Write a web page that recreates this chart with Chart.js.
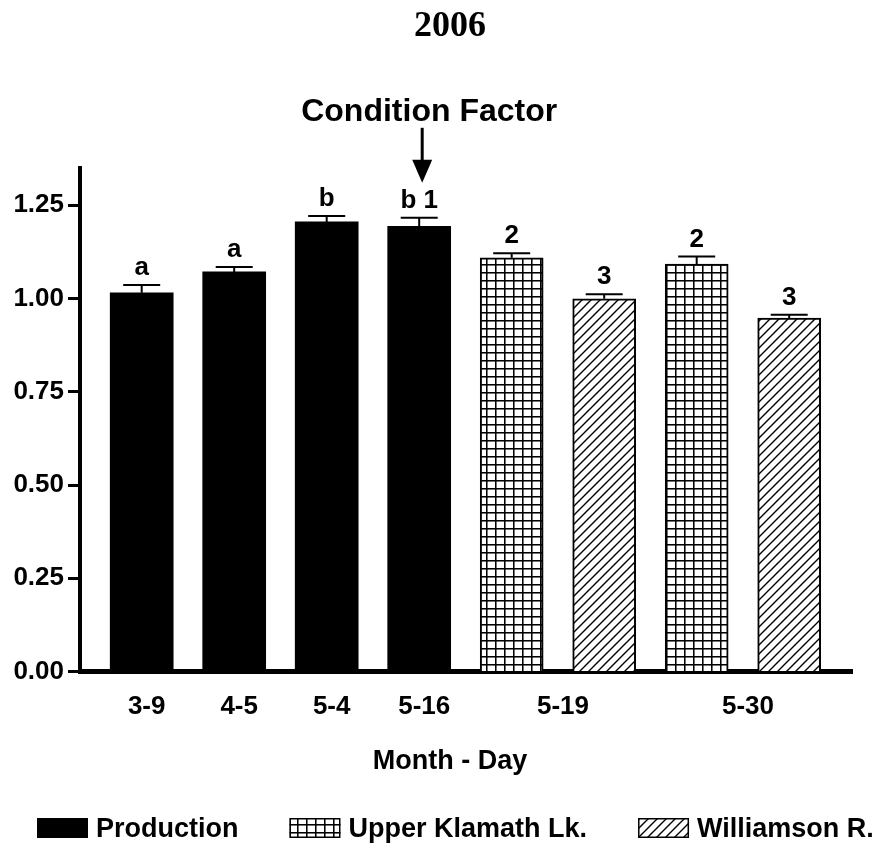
<!DOCTYPE html>
<html><head><meta charset="utf-8">
<script src="https://cdn.jsdelivr.net/npm/chart.js@4.4.0/dist/chart.umd.min.js"></script>
<style>html,body{margin:0;padding:0;background:#fff;}</style>
</head><body>
<canvas id="c" width="888" height="848"></canvas>
<script>
// ---- data ----
const dates = ['3-9', '4-5', '5-4', '5-16', '5-19', '5-30'];
const seriesNames = ['Production', 'Upper Klamath Lk.', 'Williamson R.'];
const production = [1.015, 1.071, 1.205, 1.193];
const productionErr = [0.021, 0.013, 0.016, 0.023];
const productionLetters = ['a', 'a', 'b', 'b 1'];
const upperKlamath = [1.109, 1.092];
const upperKlamathErr = [0.012, 0.020];
const upperKlamathLetters = ['2', '2'];
const williamson = [0.999, 0.947];
const williamsonErr = [0.012, 0.009];
const williamsonLetters = ['3', '3'];
const yTicks = [0, 0.25, 0.50, 0.75, 1.00, 1.25];

// ---- slot layout derived from structure ----
const pairStart = production.length + 1;
const productionSlots = production.map((v, i) => i + 1);
const upperSlots = upperKlamath.map((v, i) => pairStart + 2 * i);
const willSlots = williamson.map((v, i) => pairStart + 2 * i + 1);
const dateSlots = dates.map((d, i) => i < production.length ? i + 1 : pairStart + 2 * (i - production.length) + 0.5);

function gridPattern() {
  const c = document.createElement('canvas'); c.width = 9; c.height = 8;
  const g = c.getContext('2d');
  g.fillStyle = '#fff'; g.fillRect(0, 0, 9, 8);
  g.fillStyle = 'rgba(0,0,0,0.55)';
  g.fillRect(1, 0, 1, 8); g.fillRect(0, 1, 9, 1);
  g.fillStyle = '#000';
  g.fillRect(0, 0, 1, 8); g.fillRect(0, 0, 9, 1);
  return g.createPattern(c, 'repeat');
}
function hatchPattern() {
  const c = document.createElement('canvas'); c.width = 9; c.height = 9;
  const g = c.getContext('2d');
  g.fillStyle = '#fff'; g.fillRect(0, 0, 9, 9);
  g.strokeStyle = '#000'; g.lineWidth = 1.4;
  g.beginPath();
  g.moveTo(-1, 10); g.lineTo(10, -1);
  g.moveTo(-2, 2); g.lineTo(2, -2);
  g.moveTo(7, 11); g.lineTo(11, 7);
  g.stroke();
  return g.createPattern(c, 'repeat');
}

const FONT = 'Liberation Sans';

const annot = {
  id: 'annot',
  afterDatasetsDraw(chart) {
    const ctx = chart.ctx, ys = chart.scales.y;
    chart.data.datasets.forEach((ds, di) => {
      const meta = chart.getDatasetMeta(di);
      meta.data.forEach((bar, i) => {
        const v = ds.data[i].y, e = ds.err[i];
        const yTop = ys.getPixelForValue(v + e);
        ctx.save();
        ctx.strokeStyle = '#000'; ctx.lineWidth = 2;
        ctx.beginPath();
        ctx.moveTo(bar.x, bar.y); ctx.lineTo(bar.x, yTop);
        ctx.moveTo(bar.x - 18.5, yTop); ctx.lineTo(bar.x + 18.5, yTop);
        ctx.stroke();
        ctx.font = 'bold 26px "' + FONT + '"';
        ctx.textAlign = 'center'; ctx.textBaseline = 'alphabetic'; ctx.fillStyle = '#000';
        ctx.fillText(ds.letters[i], bar.x, yTop - 10);
        ctx.restore();
      });
    });
  },
  afterDraw(chart) {
    const ctx = chart.ctx, top = chart.chartArea.top;
    const meta = chart.getDatasetMeta(0);
    const bx = meta.data[meta.data.length - 1].x;
    ctx.save();
    ctx.fillStyle = '#000'; ctx.strokeStyle = '#000';
    ctx.font = 'bold 32px "' + FONT + '"';
    ctx.textAlign = 'center'; ctx.textBaseline = 'alphabetic';
    ctx.fillText('Condition Factor', bx + 10, top - 47);
    const ax = bx + 3;
    ctx.lineWidth = 3;
    ctx.beginPath(); ctx.moveTo(ax, top - 40); ctx.lineTo(ax, top - 6); ctx.stroke();
    ctx.beginPath(); ctx.moveTo(ax - 10, top - 8); ctx.lineTo(ax + 10, top - 8); ctx.lineTo(ax, top + 15); ctx.closePath(); ctx.fill();
    // legend
    ctx.font = 'bold 27px "' + FONT + '"';
    ctx.textAlign = 'left';
    let x = 37;
    const boxTop = 818, boxH = 20, boxW = 51;
    chart.data.datasets.forEach(ds => {
      ctx.fillStyle = ds.backgroundColor;
      ctx.fillRect(x, boxTop, boxW, boxH);
      if (ds.borderWidth) { ctx.lineWidth = 1.5; ctx.strokeStyle = '#000'; ctx.strokeRect(x + 0.75, boxTop + 0.75, boxW - 1.5, boxH - 1.5); }
      ctx.fillStyle = '#000';
      ctx.fillText(ds.label, x + boxW + 8, 837);
      x += boxW + 8 + ctx.measureText(ds.label).width + 51;
    });
    ctx.restore();
  }
};

new Chart(document.getElementById('c'), {
  type: 'bar',
  data: {
    datasets: [
      { label: seriesNames[0], data: production.map((v, i) => ({ x: productionSlots[i], y: v })), backgroundColor: '#000', borderWidth: 0, err: productionErr, letters: productionLetters },
      { label: seriesNames[1], data: upperKlamath.map((v, i) => ({ x: upperSlots[i], y: v })), backgroundColor: gridPattern(), borderColor: '#000', borderWidth: 2, err: upperKlamathErr, letters: upperKlamathLetters },
      { label: seriesNames[2], data: williamson.map((v, i) => ({ x: willSlots[i], y: v })), backgroundColor: hatchPattern(), borderColor: '#000', borderWidth: 2, err: williamsonErr, letters: williamsonLetters }
    ]
  },
  options: {
    responsive: false, animation: false, devicePixelRatio: 1,
    layout: { padding: { top: 0, left: 12, right: 0, bottom: 70 } },
    datasets: { bar: { grouped: false, barThickness: 63, borderSkipped: 'start' } },
    plugins: {
      legend: { display: false },
      tooltip: { enabled: false },
      title: { display: true, text: '2006', color: '#000', font: { family: 'Liberation Serif', size: 36, weight: 'bold' }, padding: { top: 5, bottom: 119.6 } },
      subtitle: { display: true, text: 'Month - Day', position: 'bottom', color: '#000', font: { family: FONT, size: 27, weight: 'bold' }, padding: { top: 2.8, bottom: 0 } }
    },
    scales: {
      x: {
        type: 'linear', min: 0.333, max: 8.679, offset: false,
        afterBuildTicks: s => { s.ticks = dateSlots.map(v => ({ value: v })); },
        ticks: { callback: (v, i) => dates[i], color: '#000', font: { family: FONT, size: 26, weight: 'bold' }, padding: 20, autoSkip: false, maxRotation: 0, labelOffset: 5 },
        grid: { display: false, drawOnChartArea: false, drawTicks: false },
        border: { display: true, color: '#000', width: 5 }
      },
      y: {
        min: 0, max: 1.35,
        afterBuildTicks: s => { s.ticks = yTicks.map(v => ({ value: v })); },
        afterFit: s => { s.width = 68; },
        ticks: { callback: v => Number(v).toFixed(2), color: '#000', font: { family: FONT, size: 26, weight: 'bold' }, padding: 4 },
        grid: { drawOnChartArea: false, drawTicks: true, tickLength: 12, tickWidth: 3, tickColor: '#000' },
        border: { display: true, color: '#000', width: 4 }
      },
      yPad: {
        position: 'right', display: true,
        afterFit: s => { s.width = 36; },
        ticks: { display: false },
        grid: { display: false, drawTicks: false },
        border: { display: false }
      }
    }
  },
  plugins: [annot]
});
</script>
</body></html>
